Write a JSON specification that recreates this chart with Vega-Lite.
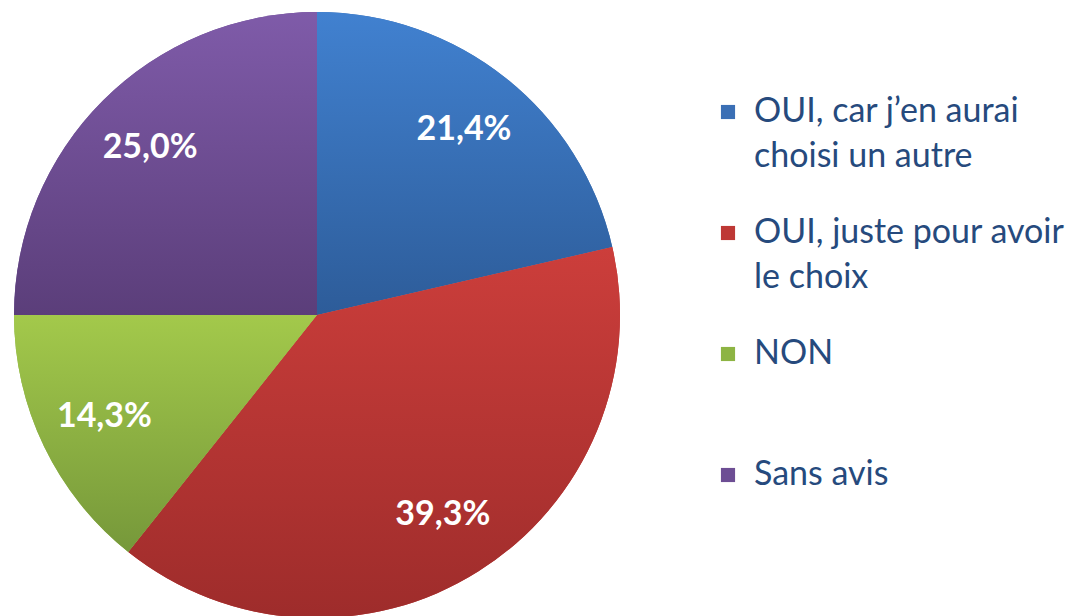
{
  "$schema": "https://vega.github.io/schema/vega-lite/v6.json",
  "width": 606,
  "height": 606,
  "padding": {"left": 14, "top": 12, "right": 0, "bottom": 0},
  "background": "white",
  "config": {"view": {"stroke": null}},
  "data": {"values": [
    {"cat": "OUI, car j’en aurai|choisi un autre", "value": 21.4, "label": "21,4%", "ord": 1},
    {"cat": "OUI, juste pour avoir|le choix", "value": 39.3, "label": "39,3%", "ord": 2},
    {"cat": "NON", "value": 14.3, "label": "14,3%", "ord": 3},
    {"cat": "Sans avis", "value": 25.0, "label": "25,0%", "ord": 4}
  ]},
  "encoding": {
    "theta": {"field": "value", "type": "quantitative", "stack": true},
    "order": {"field": "ord", "type": "quantitative"}
  },
  "layer": [
    {
      "mark": {"type": "arc", "outerRadius": 303},
      "encoding": {
        "color": {
          "field": "cat", "type": "nominal",
          "scale": {
            "domain": ["OUI, car j’en aurai|choisi un autre", "OUI, juste pour avoir|le choix", "NON", "Sans avis"],
            "range": ["#3A6FB5", "#BE3835", "#8DB443", "#6D4E94"]
          },
          "legend": {
            "title": null,
            "orient": "none",
            "legendX": 697,
            "legendY": 83,
            "symbolType": "square",
            "symbolSize": 200,
            "symbolStrokeWidth": 0,
            "labelFont": "Lato",
            "labelFontSize": 34,
            "labelColor": "#264A7D",
            "labelLimit": 400,
            "labelOffset": 9,
            "gridAlign": "all",
            "rowPadding": 42,
            "labelExpr": "split(datum.label, '|')",
            "encode": {"labels": {"update": {"lineHeight": {"value": 45}}}}
          }
        }
      }
    },
    {
      "mark": {"type": "arc", "outerRadius": 303, "fill": {"gradient": "linear", "x1": 0, "y1": 0, "x2": 0, "y2": 1, "stops": [{"offset": 0, "color": "#4181D0"}, {"offset": 1, "color": "#2D5C99"}]}},
      "encoding": {"opacity": {"condition": {"test": "datum.ord === 1", "value": 1}, "value": 0}}
    },
    {
      "mark": {"type": "arc", "outerRadius": 303, "fill": {"gradient": "linear", "x1": 0, "y1": 0, "x2": 0, "y2": 1, "stops": [{"offset": 0, "color": "#CC3E3B"}, {"offset": 1, "color": "#9E2C2B"}]}},
      "encoding": {"opacity": {"condition": {"test": "datum.ord === 2", "value": 1}, "value": 0}}
    },
    {
      "mark": {"type": "arc", "outerRadius": 303, "fill": {"gradient": "linear", "x1": 0, "y1": 0, "x2": 0, "y2": 1, "stops": [{"offset": 0, "color": "#A3C94B"}, {"offset": 1, "color": "#76983A"}]}},
      "encoding": {"opacity": {"condition": {"test": "datum.ord === 3", "value": 1}, "value": 0}}
    },
    {
      "mark": {"type": "arc", "outerRadius": 303, "fill": {"gradient": "linear", "x1": 0, "y1": 0, "x2": 0, "y2": 1, "stops": [{"offset": 0, "color": "#7F5BA9"}, {"offset": 1, "color": "#5B3E7A"}]}},
      "encoding": {"opacity": {"condition": {"test": "datum.ord === 4", "value": 1}, "value": 0}}
    },
    {
      "mark": {"type": "text", "radius": 236, "font": "Lato", "fontSize": 34, "fontWeight": "bold", "fill": "white"},
      "encoding": {"text": {"field": "label", "type": "nominal"}}
    }
  ]
}
